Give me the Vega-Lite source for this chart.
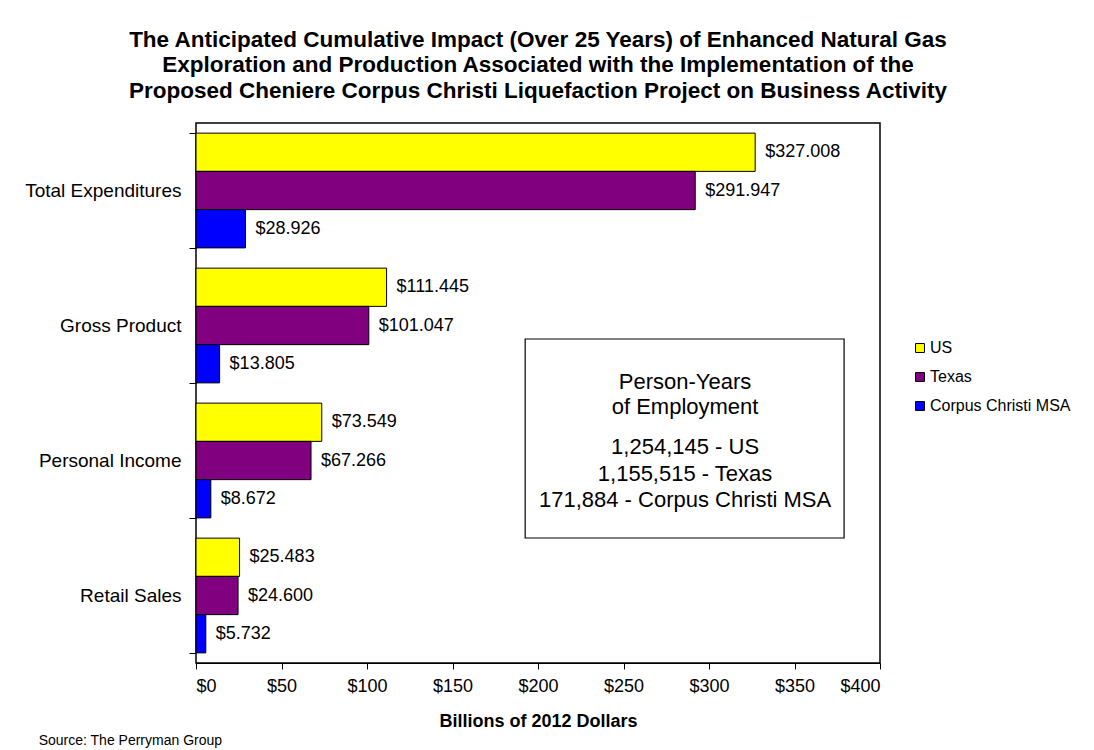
{
  "$schema": "https://vega.github.io/schema/vega-lite/v6.json",
  "width": 684,
  "height": 540,
  "autosize": {"type": "none"},
  "padding": {"left": 196, "top": 123, "right": 214, "bottom": 87},
  "background": "white",
  "config": {
    "font": "Liberation Sans",
    "view": {"stroke": "black", "strokeWidth": 1.5},
    "axis": {"labelColor": "black", "tickColor": "black", "domainColor": "black", "titleColor": "black", "grid": false}
  },
  "title": {
    "text": [
      "The Anticipated Cumulative Impact (Over 25 Years) of Enhanced Natural Gas",
      "Exploration and Production Associated with the Implementation of the",
      "Proposed Cheniere Corpus Christi Liquefaction Project on Business Activity"
    ],
    "fontSize": 22.5,
    "fontWeight": "bold",
    "lineHeight": 25.5,
    "anchor": "middle",
    "offset": 12,
    "color": "black"
  },
  "data": {
    "values": [
      {"category": "Total Expenditures", "series": "US", "value": 327.008},
      {"category": "Total Expenditures", "series": "Texas", "value": 291.947},
      {"category": "Total Expenditures", "series": "Corpus Christi MSA", "value": 28.926},
      {"category": "Gross Product", "series": "US", "value": 111.445},
      {"category": "Gross Product", "series": "Texas", "value": 101.047},
      {"category": "Gross Product", "series": "Corpus Christi MSA", "value": 13.805},
      {"category": "Personal Income", "series": "US", "value": 73.549},
      {"category": "Personal Income", "series": "Texas", "value": 67.266},
      {"category": "Personal Income", "series": "Corpus Christi MSA", "value": 8.672},
      {"category": "Retail Sales", "series": "US", "value": 25.483},
      {"category": "Retail Sales", "series": "Texas", "value": 24.6},
      {"category": "Retail Sales", "series": "Corpus Christi MSA", "value": 5.732}
    ]
  },
  "layer": [
    {
      "encoding": {
        "y": {
          "field": "category", "type": "nominal",
          "sort": ["Total Expenditures", "Gross Product", "Personal Income", "Retail Sales"],
          "scale": {"paddingInner": 0.15, "paddingOuter": 0.075},
          "axis": {"title": null, "labelFontSize": 19, "tickBand": "extent", "tickSize": 7, "labelPadding": 8, "domain": false}
        },
        "yOffset": {"field": "series", "type": "nominal", "sort": ["US", "Texas", "Corpus Christi MSA"]},
        "x": {
          "field": "value", "type": "quantitative",
          "scale": {"domain": [0, 400], "nice": false},
          "axis": {
            "values": [0, 50, 100, 150, 200, 250, 300, 350, 400],
            "format": "$.0f",
            "labelFontSize": 18,
            "tickSize": 6,
            "labelPadding": 8,
            "title": "Billions of 2012 Dollars",
            "titleFontSize": 18,
            "titleFontWeight": "bold",
            "titlePadding": 17
          }
        }
      },
      "layer": [
        {
          "mark": {"type": "bar", "stroke": "black", "strokeWidth": 1},
          "encoding": {
            "color": {
              "field": "series", "type": "nominal",
              "scale": {"domain": ["US", "Texas", "Corpus Christi MSA"], "range": ["#FFFF00", "#800080", "#0000FF"]},
              "legend": {
                "title": null, "orient": "none", "legendX": 716, "legendY": 217,
                "symbolType": "square", "symbolSize": 80, "symbolStrokeColor": "black", "symbolStrokeWidth": 1,
                "labelFontSize": 16, "labelColor": "black", "rowPadding": 13, "labelOffset": 2
              }
            }
          }
        },
        {
          "mark": {"type": "text", "align": "left", "baseline": "middle", "dx": 10, "fontSize": 18, "color": "black"},
          "encoding": {
            "text": {"field": "value", "type": "quantitative", "format": "$.3f"}
          }
        }
      ]
    },
    {
      "data": {"values": [{}]},
      "layer": [
        {
          "mark": {"type": "rect", "fill": "white", "stroke": "black", "strokeWidth": 1.2},
          "encoding": {
            "x": {"datum": 192.5},
            "x2": {"datum": 379},
            "y": {"datum": 216, "type": "quantitative", "scale": {"domain": [0, 540], "reverse": true, "nice": false, "zero": false}, "axis": null},
            "y2": {"datum": 415}
          }
        },
        {
          "mark": {"type": "text", "align": "center", "baseline": "middle", "fontSize": 22, "lineHeight": 25, "color": "black"},
          "encoding": {
            "x": {"datum": 286},
            "y": {"datum": 259, "type": "quantitative"},
            "text": {"value": ["Person-Years", "of Employment"]}
          }
        },
        {
          "mark": {"type": "text", "align": "center", "baseline": "middle", "fontSize": 22, "lineHeight": 26.5, "color": "black"},
          "encoding": {
            "x": {"datum": 286},
            "y": {"datum": 324, "type": "quantitative"},
            "text": {"value": ["1,254,145 - US", "1,155,515 - Texas", "171,884 - Corpus Christi MSA"]}
          }
        },
        {
          "mark": {"type": "text", "align": "left", "baseline": "middle", "fontSize": 14, "color": "black"},
          "encoding": {
            "x": {"datum": -92},
            "y": {"datum": 618, "type": "quantitative"},
            "text": {"value": "Source: The Perryman Group"}
          }
        }
      ]
    }
  ],
  "resolve": {"scale": {"y": "independent"}}
}
